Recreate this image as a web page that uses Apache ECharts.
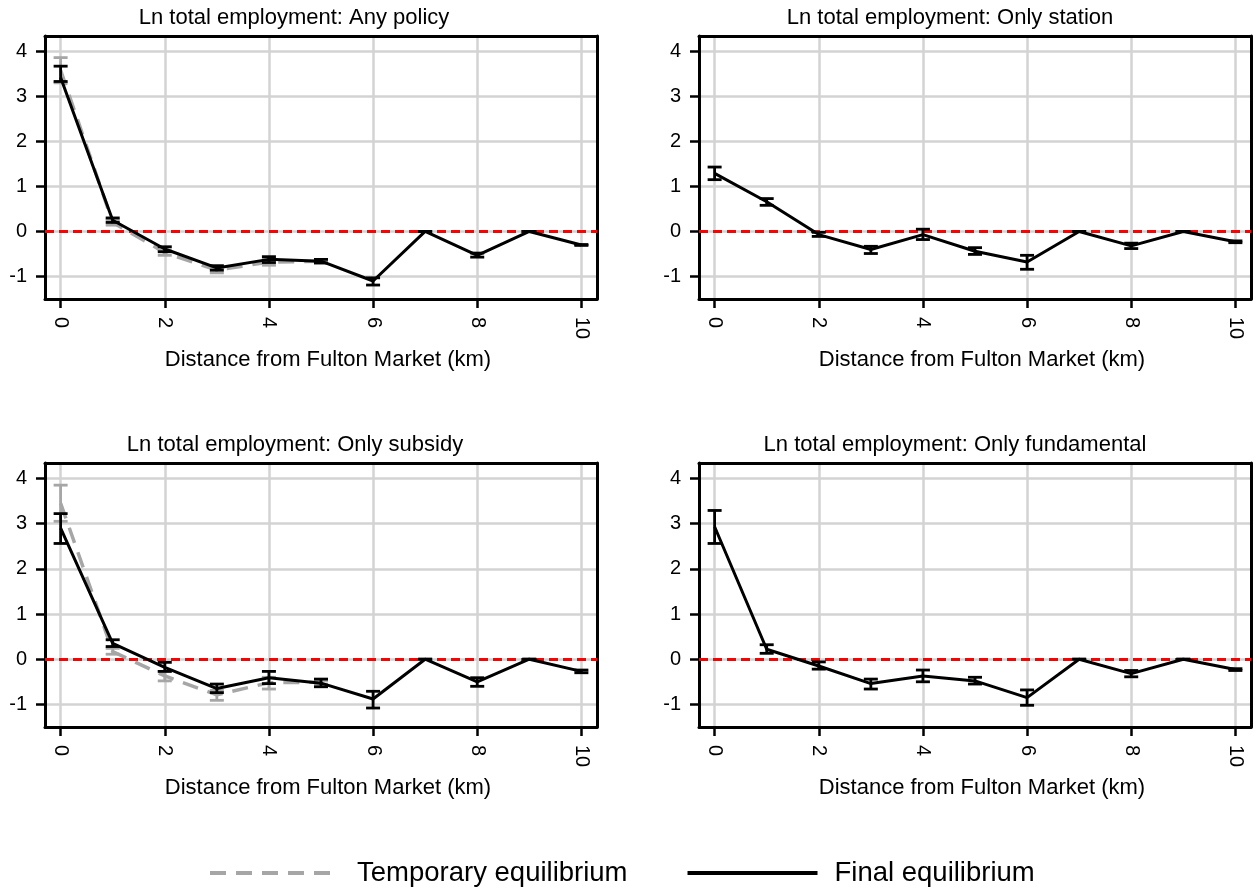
<!DOCTYPE html>
<html>
<head>
<meta charset="utf-8">
<script src="https://cdn.jsdelivr.net/npm/echarts@6/dist/echarts.min.js"></script>
<style>
  html, body { margin: 0; padding: 0; background: #fff; }
  #chart { width: 1257px; height: 893px; }
</style>
</head>
<body>
<div id="chart"></div>
<script>
// Distance bands from Fulton Market (km)
const distance = [0, 1, 2, 3, 4, 5, 6, 7, 8, 9, 10];
const xTicks = [0, 2, 4, 6, 8, 10];
const yTicks = [-1, 0, 1, 2, 3, 4];

const panelTitles = [
  'Ln total employment: Any policy',
  'Ln total employment: Only station',
  'Ln total employment: Only subsidy',
  'Ln total employment: Only fundamental'
];
const xAxisTitle = 'Distance from Fulton Market (km)';
const temporaryName = 'Temporary equilibrium';
const finalName = 'Final equilibrium';

// Any policy
const anyFinal   = [3.42, 0.25, -0.39, -0.81, -0.62, -0.66, -1.10, 0, -0.53, 0, -0.30];
const anyFinalLo = [3.33, 0.20, -0.45, -0.86, -0.69, -0.70, -1.19, 0, -0.57, 0, -0.31];
const anyFinalHi = [3.67, 0.30, -0.34, -0.76, -0.56, -0.62, -1.03, 0, -0.48, 0, -0.29];
const anyTemp    = [3.58, 0.20, -0.47, -0.86, -0.68, -0.66];
const anyTempLo  = [3.30, 0.14, -0.53, -0.92, -0.75, -0.70];
const anyTempHi  = [3.86, 0.26, -0.41, -0.80, -0.61, -0.62];

// Only station
const stationFinal   = [1.29, 0.66, -0.07, -0.40, -0.07, -0.44, -0.68, 0, -0.32, 0, -0.23];
const stationFinalLo = [1.15, 0.58, -0.11, -0.49, -0.18, -0.51, -0.84, 0, -0.38, 0, -0.25];
const stationFinalHi = [1.43, 0.73, -0.02, -0.33, 0.05, -0.36, -0.53, 0, -0.26, 0, -0.21];

// Only subsidy
const subsidyFinal   = [2.90, 0.35, -0.18, -0.65, -0.41, -0.53, -0.88, 0, -0.50, 0, -0.27];
const subsidyFinalLo = [2.56, 0.28, -0.27, -0.74, -0.54, -0.61, -1.08, 0, -0.60, 0, -0.30];
const subsidyFinalHi = [3.22, 0.43, -0.07, -0.55, -0.27, -0.44, -0.71, 0, -0.41, 0, -0.24];
const subsidyTemp    = [3.45, 0.17, -0.37, -0.79, -0.52, -0.51];
const subsidyTempLo  = [3.05, 0.11, -0.48, -0.91, -0.66, -0.55];
const subsidyTempHi  = [3.85, 0.24, -0.27, -0.69, -0.40, -0.47];

// Only fundamental
const fundFinal   = [2.93, 0.22, -0.15, -0.54, -0.37, -0.48, -0.85, 0, -0.32, 0, -0.23];
const fundFinalLo = [2.56, 0.13, -0.22, -0.66, -0.50, -0.55, -1.02, 0, -0.39, 0, -0.25];
const fundFinalHi = [3.29, 0.32, -0.06, -0.44, -0.24, -0.40, -0.68, 0, -0.25, 0, -0.21];

const panels = [
  { fin: [anyFinal, anyFinalLo, anyFinalHi], tmp: [anyTemp, anyTempLo, anyTempHi] },
  { fin: [stationFinal, stationFinalLo, stationFinalHi], tmp: null },
  { fin: [subsidyFinal, subsidyFinalLo, subsidyFinalHi], tmp: [subsidyTemp, subsidyTempLo, subsidyTempHi] },
  { fin: [fundFinal, fundFinalLo, fundFinalHi], tmp: null }
];

// Layout of the 2x2 panels
const gridBoxes = [
  { left: 45,  top: 36,  width: 552, height: 263 },
  { left: 699, top: 36,  width: 552, height: 263 },
  { left: 45,  top: 463, width: 552, height: 264 },
  { left: 699, top: 463, width: 552, height: 264 }
];
const titleCenters = [[294, 7], [950, 7], [295, 434], [955, 434]];

const FONT = '"Liberation Sans", Arial, Helvetica, sans-serif';
const BLACK = '#000000';
const GREY = '#a6a6a6';
const GRIDLINE = '#d3d3d3';

function errorBars(color, width) {
  return function (params, api) {
    const x = api.value(0);
    const p1 = api.coord([x, api.value(1)]);
    const p2 = api.coord([x, api.value(2)]);
    const hw = 7;
    const style = { stroke: color, lineWidth: width, fill: null };
    return {
      type: 'group',
      children: [
        { type: 'line', shape: { x1: p1[0], y1: p1[1], x2: p2[0], y2: p2[1] }, style: style },
        { type: 'line', shape: { x1: p1[0] - hw, y1: p1[1], x2: p1[0] + hw, y2: p1[1] }, style: style },
        { type: 'line', shape: { x1: p2[0] - hw, y1: p2[1], x2: p2[0] + hw, y2: p2[1] }, style: style }
      ]
    };
  };
}

const grids = [], xAxes = [], yAxes = [], series = [], titles = [];

gridBoxes.forEach(function (box, i) {
  grids.push(Object.assign({ containLabel: false, outerBoundsMode: 'none' }, box));

  titles.push({
    text: panelTitles[i],
    left: titleCenters[i][0],
    top: titleCenters[i][1],
    textAlign: 'center',
    padding: 0,
    textStyle: { fontFamily: FONT, fontSize: 22, fontWeight: 'normal', color: BLACK }
  });

  // bottom x axis with ticks, labels, grid lines
  xAxes.push({
    type: 'value', gridIndex: i, position: 'bottom', min: -0.3, max: 10.3,
    name: xAxisTitle, nameLocation: 'middle', nameGap: 50,
    nameTextStyle: { fontFamily: FONT, fontSize: 22, color: BLACK, padding: [0, 0, 0, 14] },
    axisLine: { show: true, onZero: false, lineStyle: { color: BLACK, width: 3 } },
    axisTick: { show: true, inside: false, length: 9, customValues: xTicks, lineStyle: { color: BLACK, width: 2.5 } },
    axisLabel: { show: true, rotate: -90, margin: 18, customValues: xTicks, fontFamily: FONT, fontSize: 20, color: BLACK },
    splitLine: { show: true, lineStyle: { color: GRIDLINE, width: 2.5 } }
  });
  // top frame edge
  xAxes.push({
    type: 'value', gridIndex: i, position: 'top', min: -0.3, max: 10.3,
    axisLine: { show: true, onZero: false, lineStyle: { color: BLACK, width: 3 } },
    axisTick: { show: false }, axisLabel: { show: false }, splitLine: { show: false }
  });
  // left y axis
  yAxes.push({
    type: 'value', gridIndex: i, position: 'left', min: -1.5, max: 4.34,
    axisLine: { show: true, onZero: false, lineStyle: { color: BLACK, width: 3 } },
    axisTick: { show: true, inside: false, length: 9, customValues: yTicks, lineStyle: { color: BLACK, width: 2.5 } },
    axisLabel: { show: true, margin: 18, customValues: yTicks, fontFamily: FONT, fontSize: 20, color: BLACK },
    splitLine: { show: true, lineStyle: { color: GRIDLINE, width: 2.5 } }
  });
  // right frame edge
  yAxes.push({
    type: 'value', gridIndex: i, position: 'right', min: -1.5, max: 4.34,
    axisLine: { show: true, onZero: false, lineStyle: { color: BLACK, width: 3 } },
    axisTick: { show: false }, axisLabel: { show: false }, splitLine: { show: false }
  });

  const xi = 2 * i, yi = 2 * i;

  // zero reference line
  series.push({
    type: 'line', xAxisIndex: xi, yAxisIndex: yi, data: [], silent: true, z: 3,
    markLine: {
      silent: true, symbol: 'none', z: 3,
      label: { show: false },
      lineStyle: { color: '#ff0000', width: 3, type: [9, 5] },
      data: [{ yAxis: 0 }]
    }
  });

  const p = panels[i];
  if (p.tmp) {
    const tVals = p.tmp[0], tLo = p.tmp[1], tHi = p.tmp[2];
    series.push({
      name: temporaryName, type: 'line', xAxisIndex: xi, yAxisIndex: yi, z: 6,
      symbol: 'none', silent: true,
      lineStyle: { color: GREY, width: 3.5, type: [16, 10] },
      itemStyle: { color: GREY },
      data: tVals.map(function (v, k) { return [distance[k], v]; })
    });
    series.push({
      type: 'custom', xAxisIndex: xi, yAxisIndex: yi, z: 7, silent: true,
      renderItem: errorBars(GREY, 2.8),
      encode: { x: 0, y: [1, 2] },
      data: tVals.map(function (v, k) { return [distance[k], tLo[k], tHi[k]]; })
    });
  } else {
    // keeps the legend entry tied to every panel
    series.push({
      name: temporaryName, type: 'line', xAxisIndex: xi, yAxisIndex: yi, z: 6,
      symbol: 'none', silent: true,
      lineStyle: { color: GREY, width: 3.5, type: [16, 10] },
      itemStyle: { color: GREY },
      data: []
    });
  }

  const fVals = p.fin[0], fLo = p.fin[1], fHi = p.fin[2];
  series.push({
    name: finalName, type: 'line', xAxisIndex: xi, yAxisIndex: yi, z: 10,
    symbol: 'none', silent: true,
    lineStyle: { color: BLACK, width: 3, type: 'solid' },
    itemStyle: { color: BLACK },
    data: fVals.map(function (v, k) { return [distance[k], v]; })
  });
  series.push({
    type: 'custom', xAxisIndex: xi, yAxisIndex: yi, z: 11, silent: true,
    renderItem: errorBars(BLACK, 2.8),
    encode: { x: 0, y: [1, 2] },
    data: fVals.map(function (v, k) { return [distance[k], fLo[k], fHi[k]]; })
  });
});

const chart = echarts.init(document.getElementById('chart'), null, { renderer: 'canvas' });
chart.setOption({
  animation: false,
  backgroundColor: '#ffffff',
  title: titles,
  grid: grids,
  xAxis: xAxes,
  yAxis: yAxes,
  legend: {
    data: [temporaryName, finalName],
    left: 208, top: 859,
    orient: 'horizontal',
    itemWidth: 130, itemHeight: 16, itemGap: 58,
    padding: 0,
    selectedMode: false,
    itemStyle: { opacity: 0 },
    lineStyle: { width: 4 },
    textStyle: { fontFamily: FONT, fontSize: 27.5, color: BLACK, padding: [0, 0, 0, 12] }
  },
  series: series
});
</script>
</body>
</html>
